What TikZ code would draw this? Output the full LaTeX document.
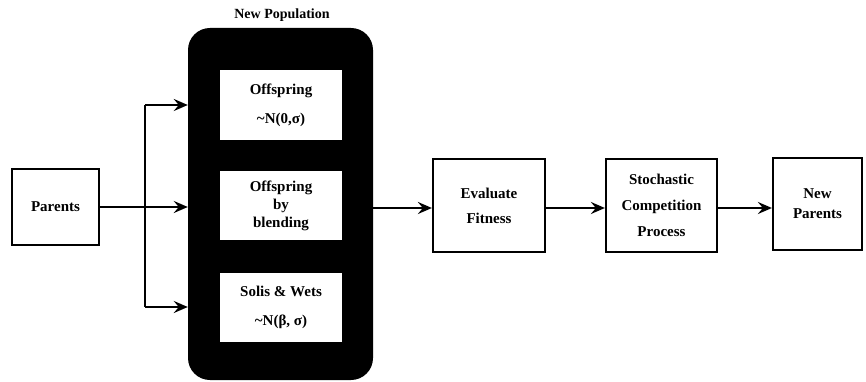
\documentclass[tikz,border=0pt]{standalone}
\usepackage{fontspec}
\setmainfont{Liberation Serif}
\usetikzlibrary{arrows.meta}
\begin{document}
\begin{tikzpicture}[x=1pt,y=-1pt,
  box/.style={draw=black, line width=2.2pt, rectangle, inner sep=0pt, align=center,
    font=\fontsize{15}{20}\selectfont\bfseries},
  wbox/.style={fill=white, draw=none, rectangle, inner sep=0pt, align=center,
    font=\fontsize{15}{20}\selectfont\bfseries},
  conn/.style={line width=2.2pt},
  arr/.style={line width=2.2pt, -{Stealth[length=14pt,width=12pt,inset=5pt]}}
]
\useasboundingbox (0,0) rectangle (866,382);
% black population block
\node[fill=black, rounded corners=22pt, minimum width=185pt, minimum height=352pt, inner sep=0pt] (pop) at (280.5,204) {};
\node[font=\fontsize{14}{16}\selectfont\bfseries] (poplab) at (282,15) {New Population};
\node[wbox, minimum width=122pt, minimum height=70pt, font=\fontsize{15}{29}\selectfont\bfseries] (o1) at (281,105) {Offspring\\\textasciitilde N(0,σ)};
\node[wbox, minimum width=122pt, minimum height=69pt, font=\fontsize{15}{18}\selectfont\bfseries] (o2) at (281,205.5) {Offspring\\by\\blending};
\node[wbox, minimum width=122pt, minimum height=69pt, font=\fontsize{15}{29}\selectfont\bfseries] (o3) at (281,307.5) {Solis \& Wets\\\textasciitilde N(β, σ)};
% left
\node[box, minimum width=87pt, minimum height=76pt] (par) at (55.5,207) {Parents};
\coordinate (sp) at (145,207);
\coordinate (s1) at (145,105);
\coordinate (s3) at (145,307);
\draw[conn] (par.east |- sp) -- (sp);
\draw[conn] (s1) -- (s3);
\draw[arr] (s1) -- (s1 -| pop.west);
\draw[arr] (sp) -- (sp -| pop.west);
\draw[arr] (s3) -- (s3 -| pop.west);
% right chain
\node[box, minimum width=112pt, minimum height=93pt, font=\fontsize{15}{25}\selectfont\bfseries] (ev) at (489,205.5) {Evaluate\\Fitness};
\node[box, minimum width=111pt, minimum height=93pt, font=\fontsize{15}{26}\selectfont\bfseries] (sc) at (661.5,205.5) {Stochastic\\Competition\\Process};
\node[box, minimum width=89pt, minimum height=92pt] (np) at (817.5,204) {New\\Parents};
\coordinate (ay) at (0,208);
\draw[arr] (pop.east |- ay) -- (ev.west |- ay);
\draw[arr] (ev.east |- ay) -- (sc.west |- ay);
\draw[arr] (sc.east |- ay) -- (np.west |- ay);
\end{tikzpicture}
\end{document}
